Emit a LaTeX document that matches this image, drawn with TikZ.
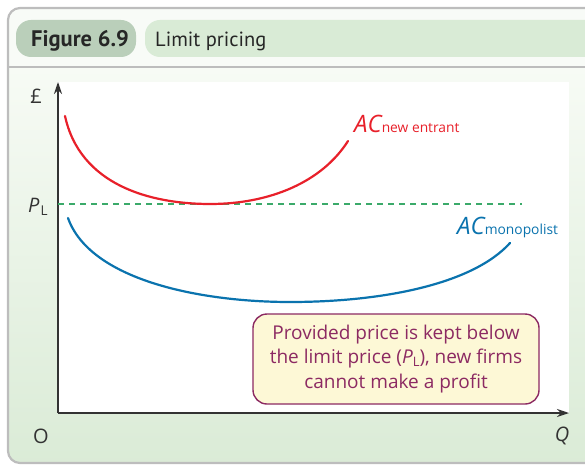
\documentclass[tikz,border=0pt]{standalone}
\usepackage{fontspec}
\setmainfont{Open Sans}
\newfontfamily\headfont{PT Sans}
\usetikzlibrary{arrows.meta,positioning}
\definecolor{framegray}{HTML}{BDBDBD}
\definecolor{headbg}{HTML}{F8FBF7}
\definecolor{tagdark}{HTML}{BACFBA}
\definecolor{taglight}{HTML}{D9EBD6}
\definecolor{paneltop}{HTML}{F7FBF5}
\definecolor{panelbottom}{HTML}{DAEBD6}
\definecolor{entrantred}{HTML}{E8202A}
\definecolor{monoblue}{HTML}{0A73AE}
\definecolor{limitgreen}{HTML}{3BAA6A}
\definecolor{notefill}{HTML}{FDF8D6}
\definecolor{notetext}{HTML}{8C2A62}
\tikzset{
  headtag/.style={rounded corners=15, inner sep=0, anchor=north west},
  axislabel/.style={inner sep=0, font=\fontsize{20}{20}\selectfont, text=black!80},
  curvelabel/.style={inner sep=0, anchor=base west},
  costcurve/.style={line width=2.2pt, line cap=round},
}
\begin{document}
\begin{tikzpicture}[x=1pt, y=-1pt]
  \useasboundingbox (0,0) rectangle (585,465);
  \clip (0,0) rectangle (585,465);
  % frame and panels
  \begin{scope}
    \clip[rounded corners=12] (8,8) rectangle (640,463);
    \fill[headbg] (0,0) rectangle (640,67);
    \shade[top color=paneltop, bottom color=panelbottom] (0,67) rectangle (640,470);
  \end{scope}
  \draw[framegray, line width=2.2pt, rounded corners=12] (8,8) rectangle (640,463);
  \draw[framegray, line width=2pt] (8,67) -- (640,67);
  % header tags
  \fill[tagdark, rounded corners=15] (16,20) rectangle (136,57);
  \fill[taglight, rounded corners=15] (145,20) rectangle (640,57);
  \node[anchor=base west, inner sep=0, text=black!85] (figno) at (31,47)
    {\headfont\bfseries\fontsize{22.5}{22.5}\selectfont Figure 6.9};
  \node[anchor=base west, inner sep=0, text=black!85] (figtitle) at (155,47)
    {\headfont\fontsize{20.5}{20.5}\selectfont Limit pricing};
  % plot area
  \fill[white] (57,82) rectangle (569,413);
  \coordinate (origin) at (58,413);
  \coordinate (ytop) at (58,82);
  \coordinate (xend) at (569,413);
  \draw[line width=1.3pt, black!80, -{Stealth[length=12pt,width=8pt]}] (origin) -- (ytop);
  \draw[line width=1.3pt, black!80, -{Stealth[length=12pt,width=8pt]}] (origin) -- (xend);
  % axis labels
  \node[axislabel] (pound) at (36,96) {£};
  \node[axislabel] (olabel) at (41,436) {O};
  \node[axislabel] (qlabel) at (562,436) {\itshape Q};
  \node[axislabel, anchor=base west] (plabel) at (28,212)
    {\itshape P\kern1pt\raisebox{-3pt}{\upshape\fontsize{13.5}{13.5}\selectfont L}};
  % limit price
  \coordinate (plstart) at (58,204);
  \coordinate (plend) at (522,204);
  \draw[limitgreen, line width=1.4pt, dash pattern=on 6pt off 5pt] (plstart) -- (plend);
  % AC new entrant
  \draw[costcurve, entrantred] (65,116) .. controls (80,185) and (150,204) .. (210,204)
    .. controls (270,204) and (322,182) .. (348,141);
  \node[curvelabel, text=entrantred] (acnew) at (354,133)
    {\fontsize{24}{24}\selectfont\itshape AC\fontsize{13.8}{13.8}\selectfont\upshape new entrant};
  % AC monopolist
  \draw[costcurve, monoblue] (68,218) .. controls (90,280) and (200,302) .. (290,302)
    .. controls (380,302) and (472,285) .. (510,243);
  \node[curvelabel, text=monoblue] (acmono) at (457,234)
    {\fontsize{24}{24}\selectfont\itshape AC\fontsize{13.8}{13.8}\selectfont\upshape monopolist};
  % note
  \node[draw=notetext, fill=notefill, text=notetext, line width=1.4pt, rounded corners=14,
        minimum width=286pt, minimum height=90pt, align=center,
        font=\fontsize{19}{24.5}\selectfont] (note) at (396,359)
    {Provided price is kept below\\
     the limit price ({\itshape P}\raisebox{-3pt}{\fontsize{13}{13}\selectfont L}), new firms\\
     cannot make a profit};
\end{tikzpicture}
\end{document}
